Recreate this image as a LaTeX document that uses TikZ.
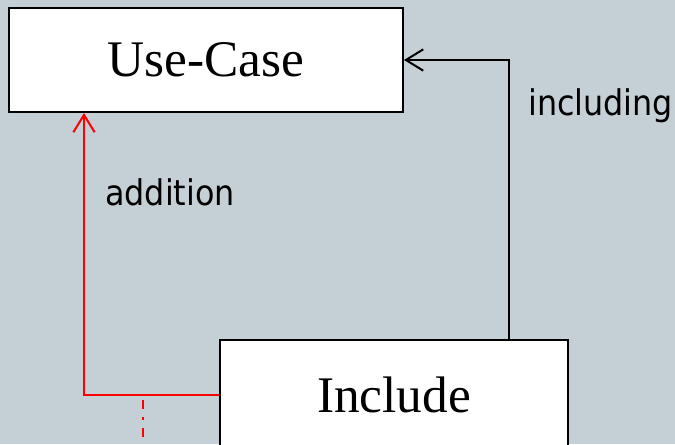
\documentclass[tikz,border=0pt]{standalone}
\usepackage{fontspec}
\setmainfont{Liberation Serif}
\newfontfamily\labfont{DejaVu Sans Condensed}
\usetikzlibrary{arrows.meta}
\definecolor{bgcol}{RGB}{197,208,214}
\definecolor{redline}{RGB}{255,0,0}
\tikzset{
  box/.style={draw=black, line width=1.5pt, fill=white, inner sep=0pt,
    font=\fontsize{38.5pt}{46pt}\selectfont},
  lab/.style={anchor=base west, inner sep=0pt, font=\labfont\fontsize{26.5pt}{32pt}\selectfont},
  conn/.style={line width=1.5pt, -{Straight Barb[length=13pt,width=16pt,line width=1.5pt]}},
  dashdot/.style={draw=redline, line width=1.5pt, dash pattern=on 7pt off 6pt on 2pt off 6pt}
}
\begin{document}
\begin{tikzpicture}[x=0.75pt,y=-0.75pt]
\useasboundingbox (0,0) rectangle (675,444);
\fill[bgcol] (0,0) rectangle (675,444);
\clip (0,0) rectangle (675,444);
\node[box, minimum width=295.5pt, minimum height=78pt] (uc) at (206,60) {Use-Case};
\node[box, minimum width=261pt, minimum height=82.5pt] (inc) at (394,395) {Include};
\draw[conn, draw=redline] (inc.west) -| ([xshift=57pt]uc.south west);
\draw[conn, draw=black] ([xshift=-45pt]inc.north east) |- (uc.east);
\coordinate (d1) at (143,400);
\coordinate (d2) at (143,452);
\draw[dashdot] (d1) -- (d2);
\node[lab] (addl) at (105,205) {addition};
\node[lab] (incl) at (528,115) {including};
\end{tikzpicture}
\end{document}
